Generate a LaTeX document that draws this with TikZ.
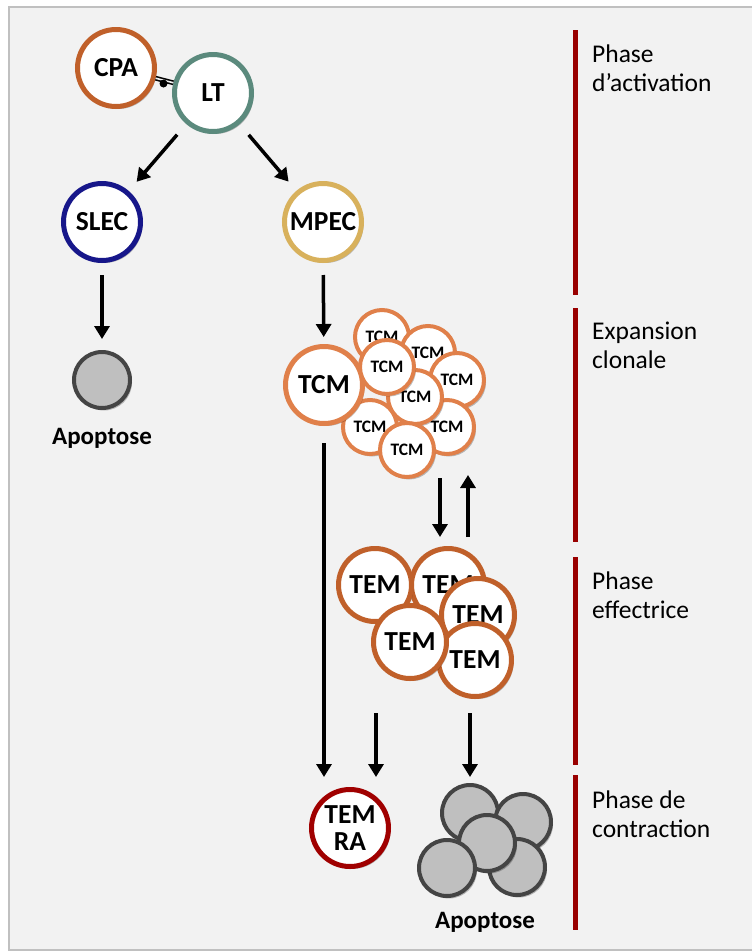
\documentclass[tikz,border=0pt]{standalone}
\usepackage{fontspec}
\setmainfont{Carlito}
\usetikzlibrary{arrows.meta,shadows}
\definecolor{bg}{HTML}{F2F2F2}
\definecolor{frame}{HTML}{C0C0C0}
\definecolor{cpac}{HTML}{C0602A}
\definecolor{ltc}{HTML}{5B8A7D}
\definecolor{slecc}{HTML}{17178A}
\definecolor{mpecc}{HTML}{D8B15C}
\definecolor{tcmc}{HTML}{E0804A}
\definecolor{temc}{HTML}{C0602A}
\definecolor{temrac}{HTML}{A00000}
\definecolor{apofill}{HTML}{BFBFBF}
\definecolor{apodraw}{HTML}{444444}
\definecolor{barred}{HTML}{990000}
\tikzset{
  shad/.style={drop shadow={shadow xshift=2pt,shadow yshift=-2.5pt,opacity=0.25,fill=black}},
  bigcell/.style={circle,draw,fill=white,line width=5pt,minimum size=77pt,inner sep=0pt,
    font=\bfseries\fontsize{27.5}{27}\selectfont,align=center,shad},
  temcell/.style={bigcell,minimum size=73pt},
  smallcell/.style={circle,draw=tcmc,fill=white,line width=4pt,minimum size=54pt,inner sep=0pt,
    font=\bfseries\fontsize{17.5}{18}\selectfont,shad},
  apocell/.style={circle,draw=apodraw,fill=apofill,line width=4pt,minimum size=56pt,inner sep=0pt,shad},
  arr/.style={line width=3.5pt,-{Triangle[length=13pt,width=15pt]}},
  phasebar/.style={line width=5pt,barred},
  phaselabel/.style={anchor=base west,align=left,inner sep=0pt,font=\fontsize{25.5}{29.5}\selectfont},
  apolabel/.style={font=\bfseries\fontsize{25}{26}\selectfont,inner sep=0pt}
}
\begin{document}
\begin{tikzpicture}[x=1pt,y=-1pt]
\useasboundingbox (0,0) rectangle (752,951);
\draw[fill=bg,draw=frame,line width=1.5pt] (9,7) rectangle (754,950);

% phase bars
\draw[phasebar] (575.5,30) -- (575.5,295);
\draw[phasebar] (575.5,308) -- (575.5,542);
\draw[phasebar] (575.5,557) -- (575.5,765);
\draw[phasebar] (575.5,775) -- (575.5,930);
\node[phaselabel] (p1) at (592,91.5) {Phase\\d’activation};
\node[phaselabel] (p2) at (592,368.5) {Expansion\\clonale};
\node[phaselabel] (p3) at (592,618.5) {Phase\\effectrice};
\node[phaselabel] (p4) at (592,837.5) {Phase de\\contraction};

% activation
\node[bigcell,draw=cpac] (cpa) at (116,68) {CPA};
\node[bigcell,draw=ltc] (lt) at (213,93) {LT};
\draw[line width=1.6pt,double=bg,double distance=1.6pt] (cpa) -- (lt);
\fill (163.5,83.5) circle (4pt);

\node[bigcell,draw=slecc] (slec) at (102,222) {SLEC};
\node[bigcell,draw=mpecc] (mpec) at (323,222) {MPEC};
\draw[arr,shorten <=14pt,shorten >=12pt] (lt) -- (slec);
\draw[arr,shorten <=14pt,shorten >=12pt] (lt) -- (mpec);

\node[apocell] (apo1) at (102,380) {};
\node[apolabel] (apo1l) at (102,438) {Apoptose};
\draw[arr,shorten <=12pt,shorten >=11pt] (slec) -- (apo1);

% TCM cluster
\node[smallcell] (s1) at (382,337) {TCM};
\node[smallcell] (s2) at (428,353) {TCM};
\node[smallcell] (s3) at (457,380) {TCM};
\node[smallcell] (s6) at (370,427) {TCM};
\node[smallcell] (s7) at (447,427) {TCM};
\node[bigcell,draw=tcmc] (tcm) at (324,385) {TCM};
\node[smallcell] (s5) at (415,397) {TCM};
\node[smallcell] (s4) at (387,367) {TCM};
\node[smallcell] (s8) at (407,450) {TCM};
\draw[arr,shorten <=12pt,shorten >=7pt] (mpec) -- (tcm);

% TEM cluster
\node[temcell,draw=temc] (t2) at (448,585) {TEM};
\node[temcell,draw=temc] (t1) at (375,585) {TEM};
\node[temcell,draw=temc] (t3) at (478,615) {TEM};
\node[temcell,draw=temc] (t5) at (475,660) {TEM};
\node[temcell,draw=temc] (t4) at (410,642) {TEM};

\coordinate (d1s) at (440,478);
\coordinate (d1e) at (440,537);
\coordinate (u1s) at (468,537);
\coordinate (u1e) at (468,475);
\draw[arr] (d1s) -- (d1e);
\draw[arr] (u1s) -- (u1e);

% contraction
\node[bigcell,draw=temrac] (temra) at (350,828) {TEM\\RA};
\node[apocell] (a1) at (470,813) {};
\node[apocell] (a2) at (523,822) {};
\node[apocell] (a4) at (517,867) {};
\node[apocell] (a3) at (487,843) {};
\node[apocell] (a5) at (447,868) {};
\node[apolabel] (apo2l) at (485,922) {Apoptose};

\coordinate (l1e) at (324,777);
\draw[arr] ([yshift=-17pt]tcm.south) -- (l1e);
\coordinate (l2s) at (376,713);
\coordinate (l2e) at (376,777);
\draw[arr] (l2s) -- (l2e);
\coordinate (l3s) at (470,713);
\coordinate (l3e) at (470,777);
\draw[arr] (l3s) -- (l3e);
\end{tikzpicture}
\end{document}
